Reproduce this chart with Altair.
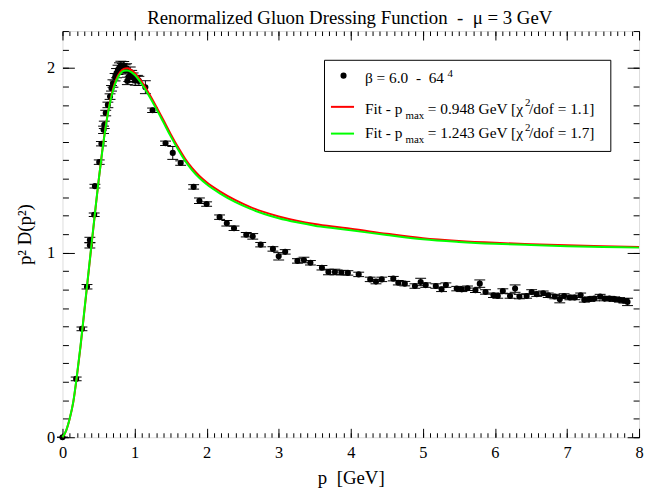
import altair as alt
import pandas as pd

# ---------------- data ----------------
p_data = [0.00, 0.19, 0.27, 0.34, 0.38, 0.38, 0.44, 0.45, 0.51, 0.54,
          0.57, 0.58, 0.60, 0.63, 0.66, 0.68, 0.70, 0.73, 0.75, 0.77,
          0.79, 0.81, 0.83, 0.85, 0.87, 0.89, 0.90, 0.92, 0.94, 0.96,
          0.98, 1.01, 1.04, 1.06, 1.15, 1.25, 1.43, 1.53, 1.64, 1.82,
          1.90, 2.00, 2.18, 2.28, 2.38, 2.55, 2.64, 2.75, 2.92, 3.00,
          3.09, 3.26, 3.35, 3.44, 3.60, 3.69, 3.78, 3.87, 3.96, 4.11,
          4.27, 4.35, 4.43, 4.59, 4.66, 4.75, 4.89, 4.97, 5.04, 5.18,
          5.26, 5.32, 5.47, 5.54, 5.62, 5.73, 5.79, 5.87, 5.98, 6.04,
          6.11, 6.21, 6.28, 6.34, 6.44, 6.51, 6.58, 6.67, 6.74, 6.83,
          6.90, 6.96, 7.04, 7.11, 7.19, 7.24, 7.31, 7.38, 7.46, 7.52,
          7.59, 7.66, 7.73, 7.79, 7.84]
d_data = [0.000, 0.316, 0.587, 0.815, 1.040, 1.068, 1.205, 1.360, 1.490, 1.590,
          1.665, 1.692, 1.756, 1.800, 1.845, 1.890, 1.916, 1.950, 1.972, 1.990,
          2.003, 2.012, 2.000, 2.010, 1.993, 1.998, 1.930, 1.952, 1.980, 1.962,
          1.948, 1.932, 1.940, 1.930, 1.896, 1.771, 1.592, 1.540, 1.485, 1.356,
          1.281, 1.263, 1.192, 1.159, 1.132, 1.097, 1.088, 1.043, 1.020, 0.980,
          1.004, 0.955, 0.960, 0.945, 0.918, 0.895, 0.895, 0.892, 0.890, 0.882,
          0.855, 0.843, 0.855, 0.859, 0.837, 0.832, 0.819, 0.841, 0.824, 0.819,
          0.801, 0.824, 0.805, 0.801, 0.807, 0.796, 0.832, 0.787, 0.769, 0.765,
          0.792, 0.765, 0.805, 0.762, 0.765, 0.787, 0.775, 0.780, 0.769, 0.762,
          0.748, 0.765, 0.757, 0.757, 0.769, 0.744, 0.748, 0.751, 0.762, 0.751,
          0.751, 0.748, 0.744, 0.739, 0.733]
err_data = [0.000, 0.010, 0.010, 0.012, 0.015, 0.015, 0.010, 0.010, 0.012, 0.012,
            0.020, 0.020, 0.015, 0.015, 0.015, 0.015, 0.020, 0.020, 0.025, 0.025,
            0.025, 0.025, 0.025, 0.025, 0.025, 0.025, 0.020, 0.025, 0.025, 0.025,
            0.025, 0.025, 0.020, 0.025, 0.035, 0.012, 0.012, 0.035, 0.012, 0.012,
            0.015, 0.012, 0.012, 0.015, 0.012, 0.012, 0.015, 0.012, 0.012, 0.020,
            0.012, 0.012, 0.015, 0.012, 0.012, 0.015, 0.015, 0.012, 0.012, 0.012,
            0.012, 0.012, 0.012, 0.012, 0.012, 0.012, 0.012, 0.020, 0.012, 0.012,
            0.012, 0.012, 0.012, 0.012, 0.012, 0.012, 0.020, 0.012, 0.012, 0.012,
            0.012, 0.012, 0.020, 0.012, 0.012, 0.012, 0.012, 0.012, 0.012, 0.012,
            0.020, 0.012, 0.012, 0.012, 0.012, 0.012, 0.012, 0.012, 0.012, 0.012,
            0.012, 0.012, 0.012, 0.012, 0.020]

p_fit = [0.00, 0.05, 0.10, 0.15, 0.20, 0.25, 0.30, 0.35, 0.40, 0.45,
         0.50, 0.55, 0.60, 0.65, 0.70, 0.75, 0.80, 0.85, 0.90, 0.95,
         1.00, 1.10, 1.20, 1.30, 1.40, 1.50, 1.60, 1.70, 1.80, 1.90,
         2.00, 2.20, 2.40, 2.60, 2.80, 3.00, 3.25, 3.50, 3.75, 4.00,
         4.50, 5.00, 5.50, 6.00, 6.50, 7.00, 7.50, 8.00]
d_fit_red = [0.000, 0.035, 0.100, 0.190, 0.330, 0.490, 0.670, 0.850, 1.030, 1.210,
             1.385, 1.545, 1.685, 1.800, 1.885, 1.943, 1.978, 1.995, 1.998, 1.990,
             1.975, 1.925, 1.862, 1.792, 1.718, 1.643, 1.573, 1.510, 1.457, 1.415,
             1.381, 1.328, 1.284, 1.248, 1.219, 1.196, 1.173, 1.155, 1.141, 1.129,
             1.102, 1.078, 1.063, 1.053, 1.046, 1.040, 1.035, 1.031]
d_fit_green = [0.000, 0.036, 0.102, 0.193, 0.334, 0.495, 0.675, 0.855, 1.035, 1.213,
               1.386, 1.543, 1.681, 1.794, 1.877, 1.933, 1.968, 1.985, 1.987, 1.979,
               1.963, 1.913, 1.850, 1.780, 1.706, 1.631, 1.561, 1.498, 1.446, 1.404,
               1.370, 1.317, 1.273, 1.238, 1.209, 1.186, 1.164, 1.146, 1.133, 1.121,
               1.095, 1.072, 1.058, 1.048, 1.041, 1.035, 1.031, 1.027]

x_major = [0, 1, 2, 3, 4, 5, 6, 7, 8]
y_major = [0, 1, 2]
x_minor = [i / 10 for i in range(0, 81)]
y_minor = [i / 10 for i in range(0, 23)]

TITLE = "Renormalized Gluon Dressing Function\u00a0\u00a0-\u00a0\u00a0\u03bc = 3 GeV"
X_TITLE = "p\u00a0\u00a0[GeV]"
Y_TITLE = "p\u00b2 D(p\u00b2)"

# ---------------- build tables ----------------
FONT = "Liberation Serif"
W, H = 582, 410
RED = "#ff0000"
GREEN = "#00ff00"

pts = pd.DataFrame({"p": p_data, "d": d_data, "err": err_data})
pts["lo"] = pts["d"] - pts["err"]
pts["hi"] = pts["d"] + pts["err"]
caps = pd.concat([pd.DataFrame({"p": pts["p"], "v": pts["lo"]}),
                  pd.DataFrame({"p": pts["p"], "v": pts["hi"]})], ignore_index=True)
fit = pd.DataFrame({"p": p_fit, "red": d_fit_red, "green": d_fit_green})
one = pd.DataFrame({"k": [0]})

xs = alt.Scale(domain=[0, 8], nice=False, zero=False)
ys = alt.Scale(domain=[0, 2.2], nice=False, zero=False)


def ax(orient, values, size, labels=False, **kw):
    base = dict(orient=orient, values=values, tickSize=size, offset=-size,
                domain=False, grid=False, tickColor="black", tickWidth=1,
                labels=labels, labelFlush=False, labelOverlap=False, title=None)
    base.update(kw)
    return alt.Axis(**base)


bottom_major = ax("bottom", x_major, 9, labels=True, format="d", labelPadding=7,
                  labelFont=FONT, labelFontSize=16.5, labelColor="black",
                  title=X_TITLE, titleFont=FONT, titleFontSize=19,
                  titleFontWeight="normal", titleColor="black", titlePadding=8)
bottom_minor = ax("bottom", x_minor, 4.5)
top_major = ax("top", x_major, 9)
top_minor = ax("top", x_minor, 4.5)
left_major = ax("left", y_major, 12, labels=True, format="d", labelPadding=8,
                labelFont=FONT, labelFontSize=16.5, labelColor="black",
                title=Y_TITLE, titleFont=FONT, titleFontSize=19,
                titleFontWeight="normal", titleColor="black", titlePadding=12)
left_minor = ax("left", y_minor, 6)
right_major = ax("right", y_major, 12)
right_minor = ax("right", y_minor, 6)

rules = alt.Chart(pts).mark_rule(color="black", strokeWidth=1).encode(
    x=alt.X("p:Q", scale=xs, axis=bottom_minor),
    y=alt.Y("lo:Q", scale=ys, axis=left_minor),
    y2="hi:Q",
)
capmarks = alt.Chart(caps).mark_tick(orient="horizontal", color="black",
                                     thickness=1, size=11, opacity=1).encode(
    x=alt.X("p:Q", scale=xs, axis=top_major),
    y=alt.Y("v:Q", scale=ys, axis=right_major),
)
points = alt.Chart(pts).mark_circle(size=38, color="black", opacity=1).encode(
    x=alt.X("p:Q", scale=xs, axis=bottom_major),
    y=alt.Y("d:Q", scale=ys, axis=left_major),
)
red = alt.Chart(fit).mark_line(color=RED, strokeWidth=2,
                               interpolate="monotone").encode(
    x=alt.X("p:Q", scale=xs, axis=top_minor),
    y=alt.Y("red:Q", scale=ys, axis=right_minor),
    order="p:Q",
)
green = alt.Chart(fit).mark_line(color=GREEN, strokeWidth=2,
                                 interpolate="monotone").encode(
    x=alt.X("p:Q", scale=xs, axis=None),
    y=alt.Y("green:Q", scale=ys, axis=None),
    order="p:Q",
)

# ---------------- legend & title (decoration, pixel positions in the plot area) ----------------
box = alt.Chart(one).mark_rect(fill="white", stroke="black", strokeWidth=1).encode(
    x=alt.value(264.5), x2=alt.value(553.5), y=alt.value(29.5), y2=alt.value(121.5))
ldot = alt.Chart(one).mark_circle(size=38, color="black", opacity=1).encode(
    x=alt.value(283.7), y=alt.value(45))
lred = alt.Chart(one).mark_rule(color=RED, strokeWidth=2).encode(
    x=alt.value(271), x2=alt.value(294.3), y=alt.value(76.5))
lgreen = alt.Chart(one).mark_rule(color=GREEN, strokeWidth=2).encode(
    x=alt.value(271), x2=alt.value(294.3), y=alt.value(103.5))


def txt(s, x, y, size=15.5, align="left"):
    return alt.Chart(one).mark_text(align=align, baseline="alphabetic", font=FONT,
                                    fontSize=size, color="black").encode(
        x=alt.value(x), y=alt.value(y), text=alt.value(s))


texts = [
    txt(TITLE, 290, -7.0, 19, "center"),
    txt("\u03b2 = 6.0\u00a0\u00a0-\u00a0\u00a064", 305.3, 52.3),
    txt("4", 388.7, 46.0, 11),
    txt("Fit - p", 305.3, 83.3),
    txt("max", 346.3, 88.3, 11),
    txt("= 0.948 GeV [\u03c7", 368.7, 83.3),
    txt("2", 467.0, 75.8, 11),
    txt("/dof = 1.1]", 471.0, 83.3),
    txt("Fit - p", 305.3, 108.3),
    txt("max", 346.3, 113.3, 11),
    txt("= 1.243 GeV [\u03c7", 368.7, 108.3),
    txt("2", 467.0, 100.8, 11),
    txt("/dof = 1.7]", 471.0, 108.3),
]

chart = alt.layer(
    rules, capmarks, points, red, green, box, ldot, lred, lgreen, *texts
).resolve_axis(
    x="independent", y="independent"
).properties(
    width=W, height=H,
    autosize=alt.AutoSizeParams(type="none"),
    padding={"left": 55, "top": 21, "right": 5, "bottom": 53},
).configure_view(
    stroke="black", strokeWidth=1
).configure(background="white", font=FONT)

chart.save("out.html", embed_options={"renderer": "svg", "actions": False})
